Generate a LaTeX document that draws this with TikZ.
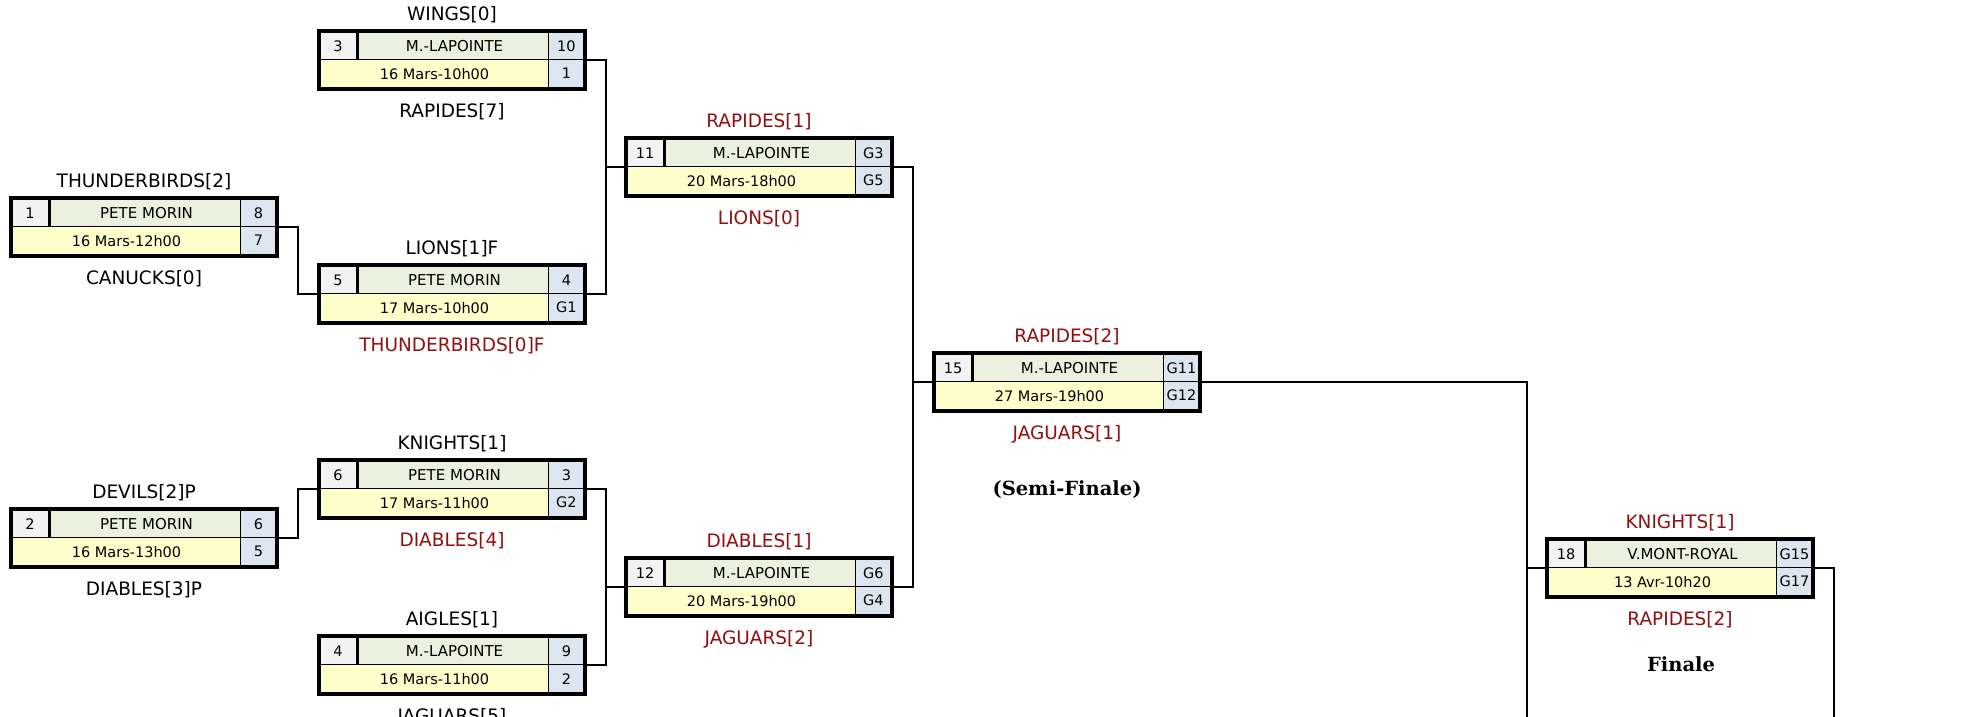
\documentclass[tikz,border=0pt]{standalone}
\usepackage{fontspec}
\setmainfont{DejaVu Sans}
\newfontfamily\titrefont{DejaVu Serif}

\definecolor{rouge}{RGB}{145,15,15}
\definecolor{gris}{RGB}{242,242,242}
\definecolor{vert}{RGB}{235,241,222}
\definecolor{jaune}{RGB}{255,255,204}
\definecolor{bleu}{RGB}{220,230,241}

\begin{document}
\begin{tikzpicture}[x=1pt,y=-1pt]
\tikzset{partie/.style={rectangle, inner sep=0pt, minimum width=266pt, minimum height=57pt},
  case/.style={draw, line width=1.5pt, inner sep=0pt, minimum height=28.5pt, font=\fontsize{14.5}{16}\selectfont},
  equipe/.style={font=\fontsize{18.5}{21}\selectfont},
  titre/.style={font=\titrefont\bfseries\fontsize{19.5}{22}\selectfont},
  lien/.style={line width=1.7pt}}
\useasboundingbox (0,0) rectangle (1963,717);
% les parties
\foreach \n/\x/\y/\num/\lieu/\jour/\pa/\pb/\haut/\couh/\bas/\coub in {
  1/144/227/1/PETE MORIN/16 Mars-12h00/8/7/THUNDERBIRDS[2]/black/CANUCKS[0]/black,
  2/144/538/2/PETE MORIN/16 Mars-13h00/6/5/DEVILS[2]P/black/DIABLES[3]P/black,
  3/452/60/3/M.-LAPOINTE/16 Mars-10h00/10/1/WINGS[0]/black/RAPIDES[7]/black,
  5/452/294/5/PETE MORIN/17 Mars-10h00/4/G1/LIONS[1]F/black/THUNDERBIRDS[0]F/rouge,
  6/452/489/6/PETE MORIN/17 Mars-11h00/3/G2/KNIGHTS[1]/black/DIABLES[4]/rouge,
  4/452/665/4/M.-LAPOINTE/16 Mars-11h00/9/2/AIGLES[1]/black/JAGUARS[5]/black,
  11/759/167/11/M.-LAPOINTE/20 Mars-18h00/G3/G5/RAPIDES[1]/rouge/LIONS[0]/rouge,
  12/759/587/12/M.-LAPOINTE/20 Mars-19h00/G6/G4/DIABLES[1]/rouge/JAGUARS[2]/rouge,
  15/1067/382/15/M.-LAPOINTE/27 Mars-19h00/G11/G12/RAPIDES[2]/rouge/JAGUARS[1]/rouge,
  18/1680/568/18/V.MONT-ROYAL/13 Avr-10h20/G15/G17/KNIGHTS[1]/rouge/RAPIDES[2]/rouge}{
  \node[partie] (m\n) at (\x,\y) {};
  \node[case, fill=gris, minimum width=37pt, anchor=north west] (n\n) at (m\n.north west) {\num};
  \node[case, fill=vert, minimum width=193pt, anchor=north west, font=\fontsize{15}{17}\selectfont] (l\n) at (n\n.north east) {\lieu};
  \node[case, fill=bleu, minimum width=36pt, anchor=north east] (a\n) at (m\n.north east) {\pa};
  \node[case, fill=jaune, minimum width=230pt, anchor=south west, font=\fontsize{14.5}{17}\selectfont] (d\n) at (m\n.south west) {\jour};
  \node[case, fill=bleu, minimum width=36pt, anchor=south east] (b\n) at (m\n.south east) {\pb};
  \draw[line width=4pt] (m\n.north west) rectangle (m\n.south east);
  \node[equipe, text=\couh] (h\n) at (\x,\y-45) {\haut};
  \node[equipe, text=\coub] (v\n) at (\x,\y+52) {\bas};
}
% les liens
\draw[lien] (m1.east) -- ++(21,0) |- (m5.west);
\draw[lien] (m2.east) -- ++(21,0) |- (m6.west);
\draw[lien] (m3.east) -- ++(21,0) |- (m5.east);
\draw[lien] (m11.west) -- ++(-20,0);
\draw[lien] (m6.east) -- ++(21,0) |- (m4.east);
\draw[lien] (m12.west) -- ++(-20,0);
\draw[lien] (m11.east) -- ++(21,0) |- (m12.east);
\draw[lien] (m15.west) -- ++(-21,0);
\coordinate (f1) at (1527,730);
\coordinate (f2) at (1834,730);
\draw[lien] (m15.east) -| (f1);
\draw[lien] (m18.west) -- (f1 |- m18.west);
\draw[lien] (m18.east) -| (f2);
\node[titre] (semi) at (1067,490) {(Semi-Finale)};
\node[titre] (finale) at (1681,664) {Finale};
\end{tikzpicture}
\end{document}
